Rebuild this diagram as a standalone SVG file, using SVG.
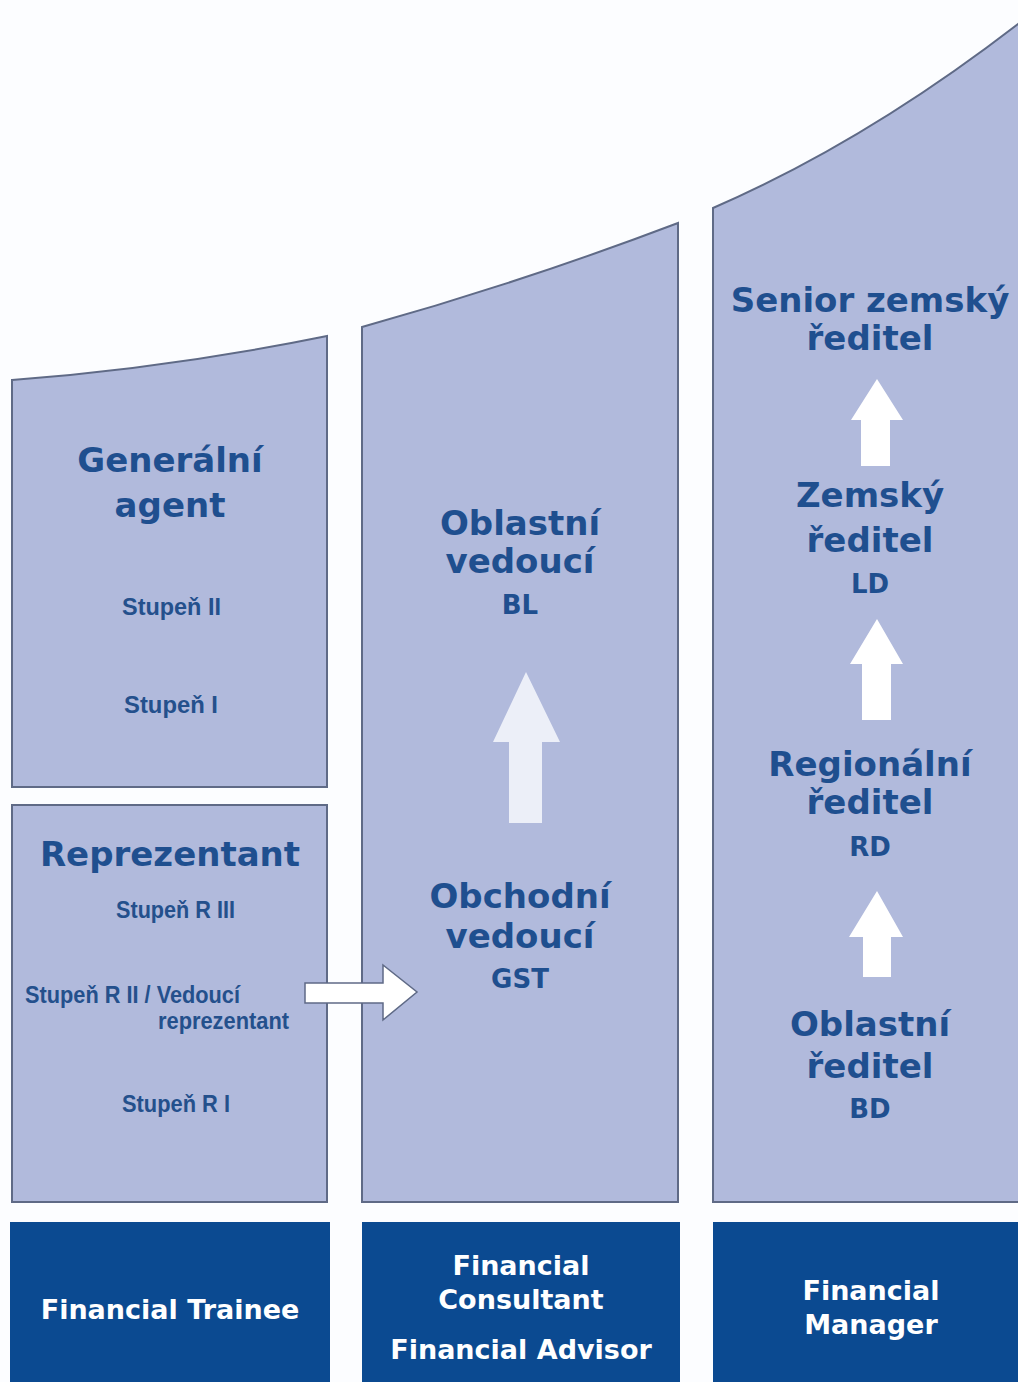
<svg xmlns="http://www.w3.org/2000/svg" width="1018" height="1382" viewBox="0 0 1018 1382">
<style>
.col{fill:#b1badc;stroke:#5f6a86;stroke-width:2}
.base{fill:#0b4a91}
.t{font-family:"DejaVu Sans",sans-serif;font-weight:bold;font-size:34px;fill:#1f4f8f;text-anchor:middle}
.ab{font-family:"DejaVu Sans",sans-serif;font-weight:bold;font-size:26px;fill:#1f4f8f;text-anchor:middle}
.s{font-family:"Liberation Sans",Arial,sans-serif;font-weight:bold;font-size:23px;fill:#24508c}
.w{font-family:"DejaVu Sans",sans-serif;font-weight:bold;font-size:27px;fill:#ffffff;text-anchor:middle}
.up{fill:#ffffff}
</style>
<rect x="0" y="0" width="1018" height="1382" fill="#fcfdff"/>

<g id="generalni-agent">
<path class="col" d="M12,380 Q170,368 327,336 L327,787 L12,787 Z"/>
<text class="t" x="170" y="472">Generální</text>
<text class="t" x="170" y="517">agent</text>
<text class="s" x="122" y="615" textLength="99" lengthAdjust="spacingAndGlyphs">Stupeň II</text>
<text class="s" x="124" y="713" textLength="94" lengthAdjust="spacingAndGlyphs">Stupeň I</text>
</g>

<g id="reprezentant">
<rect class="col" x="12" y="805" width="315" height="397"/>
<text class="t" x="170" y="866">Reprezentant</text>
<text class="s" x="116" y="918" textLength="119" lengthAdjust="spacingAndGlyphs">Stupeň R III</text>
<text class="s" x="25" y="1003" textLength="215" lengthAdjust="spacingAndGlyphs">Stupeň R II / Vedoucí</text>
<text class="s" x="158" y="1029" textLength="131" lengthAdjust="spacingAndGlyphs">reprezentant</text>
<text class="s" x="122" y="1112" textLength="108" lengthAdjust="spacingAndGlyphs">Stupeň R I</text>
</g>

<g id="column-2">
<path class="col" d="M362,327 Q520,283 678,223 L678,1202 L362,1202 Z"/>
</g>
<g id="oblastni-vedouci">
<text class="t" x="520" y="535">Oblastní</text>
<text class="t" x="520" y="573">vedoucí</text>
<text class="ab" x="520" y="614">BL</text>
</g>
<g id="obchodni-vedouci">
<text class="t" x="520" y="908">Obchodní</text>
<text class="t" x="520" y="948">vedoucí</text>
<text class="ab" x="520" y="988">GST</text>
</g>

<g id="column-3">
<path class="col" d="M713,208 Q865,142 1018,24 L1030,15 L1030,1202 L713,1202 Z"/>
</g>
<g id="senior-zemsky-reditel">
<text class="t" x="870" y="312">Senior zemský</text>
<text class="t" x="870" y="350">ředitel</text>
</g>
<g id="zemsky-reditel">
<text class="t" x="870" y="507">Zemský</text>
<text class="t" x="870" y="552">ředitel</text>
<text class="ab" x="870" y="593">LD</text>
</g>
<g id="regionalni-reditel">
<text class="t" x="870" y="776">Regionální</text>
<text class="t" x="870" y="814">ředitel</text>
<text class="ab" x="870" y="856">RD</text>
</g>
<g id="oblastni-reditel">
<text class="t" x="870" y="1036">Oblastní</text>
<text class="t" x="870" y="1078">ředitel</text>
<text class="ab" x="870" y="1118">BD</text>
</g>

<g id="financial-trainee">
<rect class="base" x="10" y="1222" width="320" height="160"/>
<text class="w" x="170" y="1319">Financial Trainee</text>
</g>
<g id="financial-consultant">
<rect class="base" x="362" y="1222" width="318" height="160"/>
<text class="w" x="521" y="1275">Financial</text>
<text class="w" x="521" y="1309">Consultant</text>
<text class="w" x="521" y="1359">Financial Advisor</text>
</g>
<g id="financial-manager">
<rect class="base" x="713" y="1222" width="305" height="160"/>
<text class="w" x="871" y="1300">Financial</text>
<text class="w" x="871" y="1334">Manager</text>
</g>

<g id="connectors">
<path d="M509,823 L509,742 L493,742 L526,672 L560,742 L542,742 L542,823 Z" fill="#eceff8"/>
<path class="up" d="M861,466 L861,420 L851,420 L877,379 L903,420 L890,420 L890,466 Z"/>
<path class="up" d="M862,720 L862,664 L850,664 L877,619 L903,664 L891,664 L891,720 Z"/>
<path class="up" d="M863,977 L863,937 L849,937 L877,891 L903,937 L891,937 L891,977 Z"/>
<path d="M305,983 L383,983 L383,965 L417,992 L383,1020 L383,1003 L305,1003 Z" fill="#ffffff" stroke="#5f6a86" stroke-width="1.5"/>
</g>
</svg>
